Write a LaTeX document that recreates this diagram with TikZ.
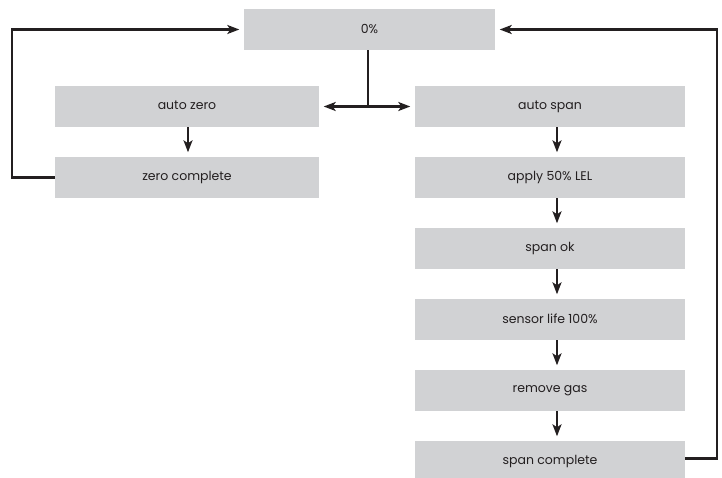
\documentclass[tikz,border=0pt]{standalone}
\usepackage{fontspec}
\setmainfont{Poppins}
\usetikzlibrary{arrows, arrows.meta, positioning, calc}

\definecolor{boxgray}{HTML}{D1D2D4}
\definecolor{txtgray}{HTML}{231F20}

\begin{document}
\begin{tikzpicture}[x=1pt, y=-1pt,
    stage/.style={rectangle, fill=boxgray, minimum height=41pt, inner sep=0pt,
                  text=txtgray, font=\fontsize{12.5}{14}\selectfont},
    flow/.style={line width=2.3pt, draw=txtgray},
    arr/.style={flow, -{Stealth[length=12pt, width=9pt, inset=3pt]}, shorten >=4.5pt}]

% page
\clip (0,0) rectangle (722,477);

\def\lx{187}
\def\rx{550}
\def\pitch{71}
\def\ytop{106.5}

% boxes
\node[stage, minimum width=251pt] (zero) at (369.5,29.5) {\raisebox{2pt}{0\%}};

\node[stage, minimum width=264pt] (autozero) at (\lx,\ytop) {\raisebox{2pt}{auto zero}};
\node[stage, minimum width=264pt] (zerodone) at (\lx,\ytop+\pitch) {\raisebox{2pt}{zero complete}};

\node[stage, minimum width=270pt] (autospan) at (\rx,\ytop) {\raisebox{2pt}{auto span}};
\node[stage, minimum width=270pt] (applygas) at (\rx,\ytop+\pitch) {\raisebox{2pt}{apply 50\% LEL}};
\node[stage, minimum width=270pt] (spanok)   at (\rx,\ytop+2*\pitch) {\raisebox{2pt}{span ok}};
\node[stage, minimum width=270pt] (life)     at (\rx,\ytop+3*\pitch) {\raisebox{2pt}{sensor life 100\%}};
\node[stage, minimum width=270pt] (nogas)    at (\rx,\ytop+4*\pitch) {\raisebox{2pt}{remove gas}};
\node[stage, minimum width=270pt] (spandone) at (\rx,\ytop+5*\pitch) {\raisebox{2pt}{span complete}};

% split below 0%
\coordinate (split) at (368,\ytop);
\draw[flow] (zero.south -| split) -- (split);
\draw[arr] (split) -- (autozero.east);
\draw[arr] (split) -- (autospan.west);

% zero column
\draw[arr] ([xshift=1pt]autozero.south) -- ([xshift=1pt]zerodone.north);

% span column
\draw[arr] ([xshift=7pt]autospan.south) -- ([xshift=7pt]applygas.north);
\draw[arr] ([xshift=7pt]applygas.south) -- ([xshift=7pt]spanok.north);
\draw[arr] ([xshift=7pt]spanok.south) -- ([xshift=7pt]life.north);
\draw[arr] ([xshift=7pt]life.south) -- ([xshift=7pt]nogas.north);
\draw[arr] ([xshift=7pt]nogas.south) -- ([xshift=7pt]spandone.north);

% loops back to 0%
\coordinate (leftrun) at (12,0);
\coordinate (rightrun) at (717,0);
\draw[arr] (zerodone.west) -- (zerodone.west -| leftrun) |- (zero.west);
\draw[arr] ([yshift=3pt]spandone.east) -- ([yshift=3pt]spandone.east -| rightrun) |- (zero.east);

\end{tikzpicture}
\end{document}
